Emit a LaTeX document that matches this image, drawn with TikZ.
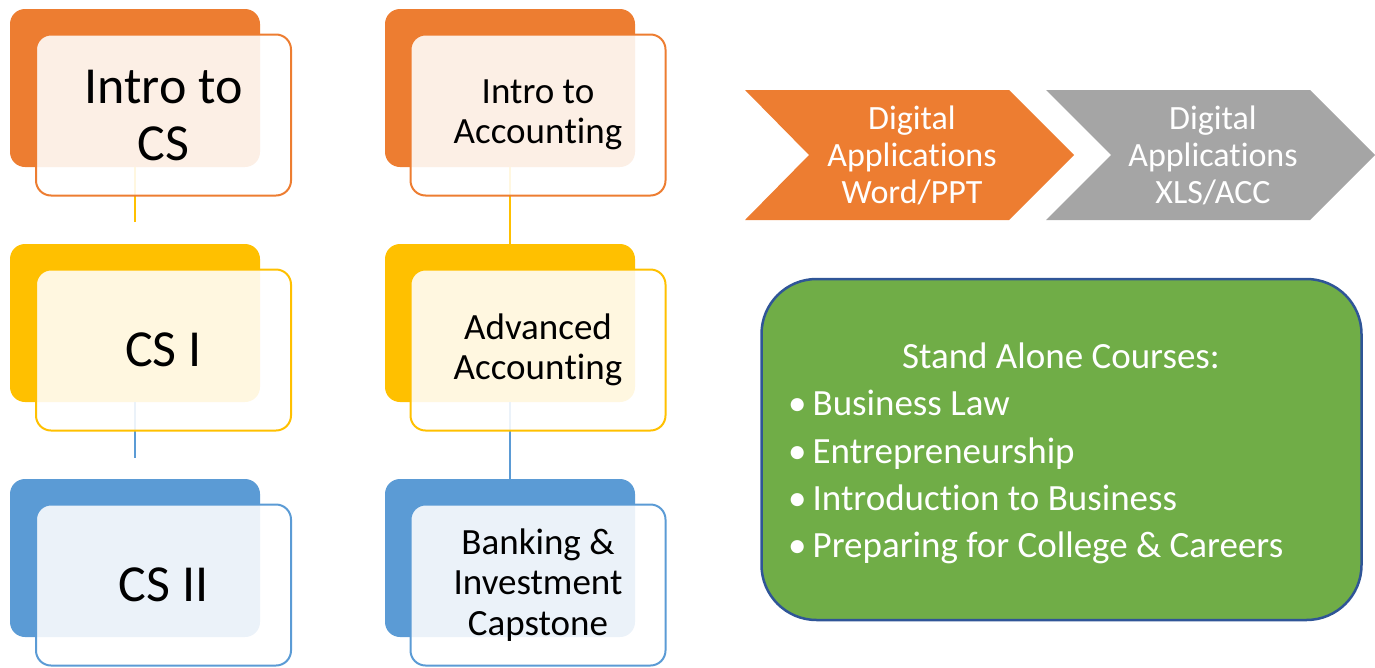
\documentclass[tikz,border=0pt]{standalone}
\usepackage{fontspec}
\setmainfont{Carlito}[Ligatures={NoCommon,NoContextual}]
\usepackage{tikz}
\usepackage{xcolor}
\definecolor{csorange}{HTML}{ED7D31}
\definecolor{csyellow}{HTML}{FFC000}
\definecolor{csblue}{HTML}{5B9BD5}
\definecolor{csgray}{HTML}{A5A5A5}
\definecolor{csgreen}{HTML}{70AD47}
\definecolor{csborder}{HTML}{2F5597}

\begin{document}
\begin{tikzpicture}[x=1pt,y=-1pt,
  back/.style={rounded corners=15pt, minimum width=250pt, minimum height=158pt, inner sep=0pt, fill=#1},
  front/.style={draw=#1, line width=2pt, rounded corners=15pt, fill=white, fill opacity=0.88, text opacity=1,
    minimum width=255pt, minimum height=161pt, inner sep=0pt, align=center},
  bigtext/.style={font=\fontsize{52}{57}\selectfont},
  midtext/.style={font=\fontsize{37}{40.5}\selectfont},
  chevtext/.style={text=white, align=center, font=\fontsize{34}{37}\selectfont},
  listtext/.style={text=white, font=\fontsize{37}{40}\selectfont, inner sep=0pt}]
\useasboundingbox (0,0) rectangle (1375,667);

% back boxes
\node[back=csorange] (csA) at (135,88) {};
\node[back=csyellow] (csB) at (135,323) {};
\node[back=csblue] (csC) at (135,558) {};
\node[back=csorange] (accA) at (510,88) {};
\node[back=csyellow] (accB) at (510,323) {};
\node[back=csblue] (accC) at (510,558) {};

% links
\coordinate (csAend) at (135,222);
\coordinate (csBend) at (135,458);
\draw[csyellow, line width=2pt] (csA.south) -- (csAend);
\draw[csblue, line width=2pt] (csB.south) -- (csBend);
\draw[csyellow, line width=2pt] (accA.south) -- (accB.north);
\draw[csblue, line width=2pt] (accB.south) -- (accC.north);

% front boxes
\node[front=csorange, bigtext] (csAtext) at (163.5,115) {Intro to\\CS};
\node[front=csyellow, bigtext] (csBtext) at (163.5,350) {CS I};
\node[front=csblue, bigtext] (csCtext) at (163.5,585) {CS II};
\node[front=csorange, midtext] (accAtext) at (538,115) {Intro to\\Accoun\kern0pt ting};
\node[front=csyellow, midtext] (accBtext) at (538,350) {Advanced\\Accoun\kern0pt ting};
\node[front=csblue, midtext] (accCtext) at (538,585) {Banking \&\\Investment\\Capstone};

% chevrons
\fill[csorange] (745,90) -- (1009,90) -- (1074,155) -- (1009,220) -- (745,220) -- (809,155) -- cycle;
\fill[csgray] (1046,90) -- (1310,90) -- (1375,155) -- (1310,220) -- (1046,220) -- (1111,155) -- cycle;
\node[chevtext] (digA) at (912,155) {Digital\\Applications\\Word/PPT};
\node[chevtext] (digB) at (1213,155) {Digital\\Applications\\XLS/ACC};

% stand alone courses
\node[draw=csborder, line width=2.5pt, fill=csgreen, rounded corners=55pt,
  minimum width=600pt, minimum height=341pt] (alone) at (1061.5,449.5) {};
\node[listtext, anchor=base] (aloneTitle) at (1061,368) {Stand Alone Courses:};
\node[listtext, anchor=base west] (law) at (788,415) {•\hspace{6pt}Business Law};
\node[listtext, anchor=base west] (entre) at (788,463) {•\hspace{6pt}Entrepreneurship};
\node[listtext, anchor=base west] (intro) at (788,510) {•\hspace{6pt}Introduction to Business};
\node[listtext, anchor=base west] (prep) at (788,557) {•\hspace{6pt}Preparing for College \& Careers};
\end{tikzpicture}
\end{document}
